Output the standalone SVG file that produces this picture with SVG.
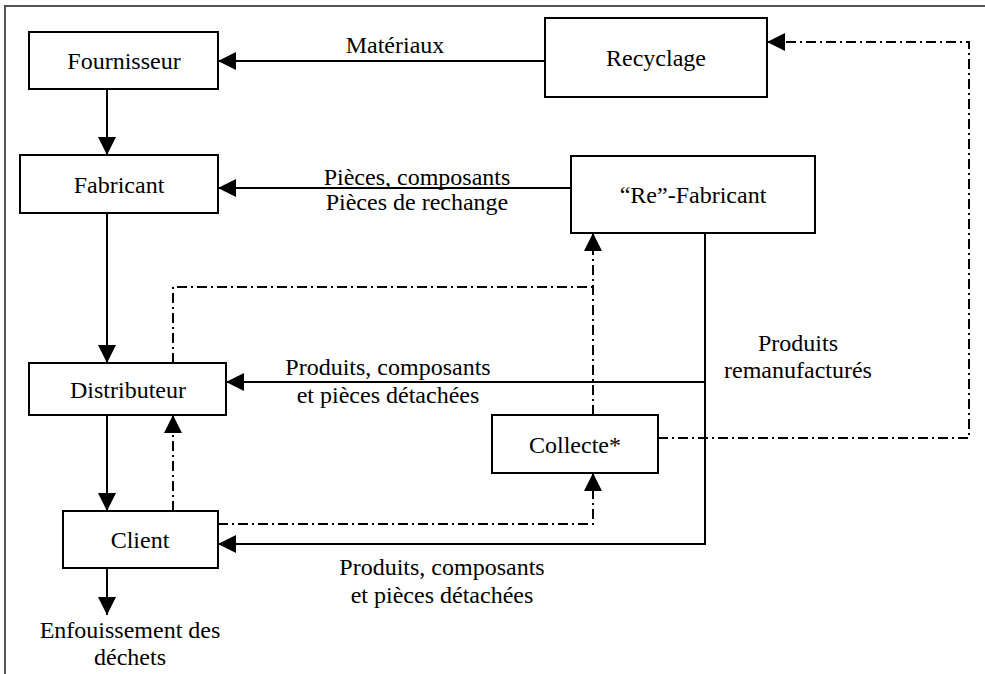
<svg xmlns="http://www.w3.org/2000/svg" width="985" height="674" viewBox="0 0 985 674">
  <style>
    .box { fill: #fff; stroke: #000; stroke-width: 2; }
    .lbl { font-family: 'Liberation Serif', 'DejaVu Serif', serif; font-size: 24px; fill: #000; text-anchor: middle; }
    .solid { fill: none; stroke: #000; stroke-width: 2; }
    .dash { fill: none; stroke: #000; stroke-width: 2; stroke-dasharray: 10 4 2 4; }
  </style>
  <defs>
    <marker id="arrow" viewBox="0 0 18 18" refX="18" refY="9" markerWidth="18" markerHeight="18" markerUnits="userSpaceOnUse" orient="auto">
      <path d="M0,0 L18,9 L0,18 Z" fill="#000"/>
    </marker>
  </defs>

  <rect width="985" height="674" fill="#fff"/>
  <!-- outer frame -->
  <path d="M5,674 V6 H985" fill="none" stroke="#555" stroke-width="2"/>

  <g id="connectors">
    <!-- main chain -->
    <path class="solid" d="M107,89 V155" marker-end="url(#arrow)"/>
    <path class="solid" d="M107,213 V363" marker-end="url(#arrow)"/>
    <path class="solid" d="M107,415 V511" marker-end="url(#arrow)"/>
    <path class="solid" d="M107,568 V615" marker-end="url(#arrow)"/>
    <!-- recycling to supplier -->
    <path class="solid" d="M545,61 H218" marker-end="url(#arrow)"/>
    <!-- remanufacturer to manufacturer -->
    <path class="solid" d="M571,188 H218" marker-end="url(#arrow)"/>
    <!-- remanufactured products -->
    <path class="solid" d="M705,233 V544 H218" marker-end="url(#arrow)"/>
    <path class="solid" d="M705,382 H226" marker-end="url(#arrow)"/>
    <!-- return flows -->
    <path class="dash" d="M173,363 V287 H593"/>
    <path class="dash" d="M593,415 V233" marker-end="url(#arrow)"/>
    <path class="dash" d="M173,511 V415" marker-end="url(#arrow)"/>
    <path class="dash" d="M218,524 H593 V473" marker-end="url(#arrow)"/>
    <path class="dash" d="M658,438 H969 V42 H767" marker-end="url(#arrow)"/>
  </g>

  <g font-family="Liberation Serif, DejaVu Serif, serif">
  <g id="fournisseur">
    <rect class="box" x="29" y="32" width="189" height="57"/>
    <text class="lbl" x="124" y="69">Fournisseur</text>
  </g>
  <g id="fabricant">
    <rect class="box" x="20" y="155" width="198" height="58"/>
    <text class="lbl" x="119" y="193">Fabricant</text>
  </g>
  <g id="distributeur">
    <rect class="box" x="29" y="363" width="197" height="52"/>
    <text class="lbl" x="128" y="398">Distributeur</text>
  </g>
  <g id="client">
    <rect class="box" x="63" y="511" width="155" height="57"/>
    <text class="lbl" x="140" y="548">Client</text>
  </g>
  <g id="recyclage">
    <rect class="box" x="545" y="18" width="222" height="79"/>
    <text class="lbl" x="656" y="66">Recyclage</text>
  </g>
  <g id="refabricant">
    <rect class="box" x="571" y="156" width="244" height="77"/>
    <text class="lbl" x="693" y="203">“Re”-Fabricant</text>
  </g>
  <g id="collecte">
    <rect class="box" x="492" y="415" width="166" height="58"/>
    <text class="lbl" x="575" y="453">Collecte*</text>
  </g>

  <g id="labels">
    <text class="lbl" x="395" y="53">Matériaux</text>
    <text class="lbl" x="417" y="185">Pièces, composants</text>
    <text class="lbl" x="417" y="210">Pièces de rechange</text>
    <text class="lbl" x="388" y="375">Produits, composants</text>
    <text class="lbl" x="388" y="403">et pièces détachées</text>
    <text class="lbl" x="798" y="351">Produits</text>
    <text class="lbl" x="798" y="378">remanufacturés</text>
    <text class="lbl" x="442" y="575">Produits, composants</text>
    <text class="lbl" x="442" y="603">et pièces détachées</text>
    <text class="lbl" x="130" y="638">Enfouissement des</text>
    <text class="lbl" x="130" y="665">déchets</text>
  </g>
  </g>
</svg>
